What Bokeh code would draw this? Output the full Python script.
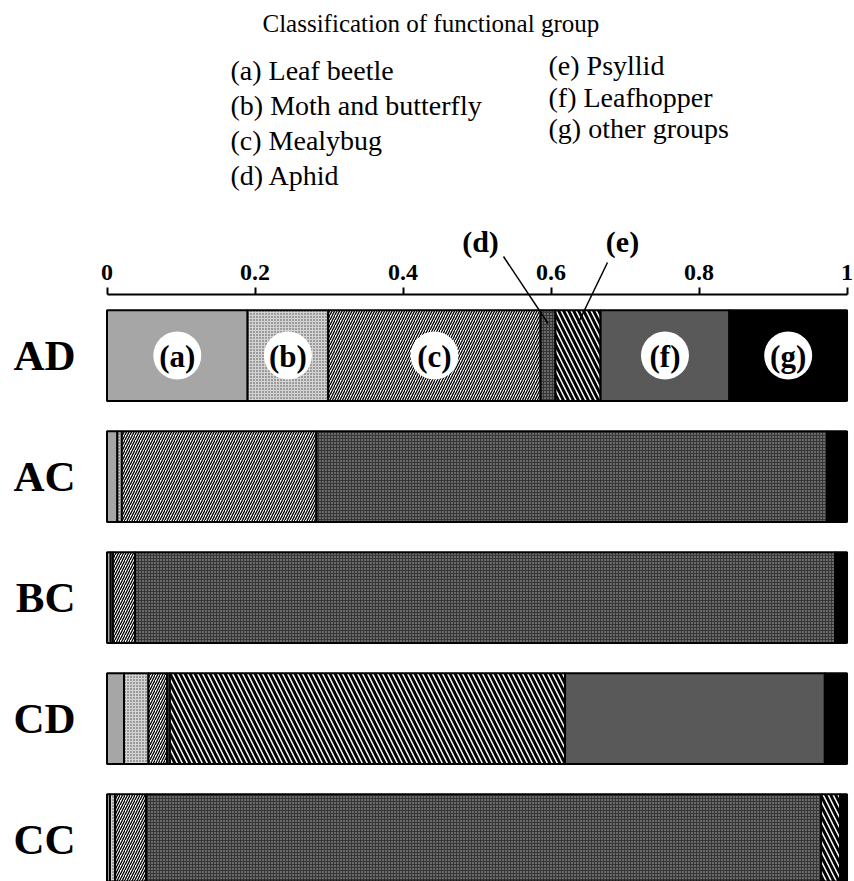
from bokeh.plotting import figure
from bokeh.models import ColumnDataSource, Range1d, FixedTicker, Label, Arrow
from bokeh.core.properties import value
from bokeh.embed import file_html
from bokeh.resources import INLINE

# ---------------- data ----------------
sites = ["AD", "AC", "BC", "CD", "CC"]
group_keys = ["a", "b", "c", "d", "e", "f", "g"]
group_names = ["Leaf beetle", "Moth and butterfly", "Mealybug", "Aphid",
               "Psyllid", "Leafhopper", "other groups"]
leaf_beetle    = [0.190, 0.014, 0.005, 0.023, 0.004]
moth_butterfly = [0.109, 0.006, 0.003, 0.033, 0.007]
mealybug       = [0.287, 0.263, 0.030, 0.025, 0.042]
aphid          = [0.020, 0.690, 0.946, 0.004, 0.912]
psyllid        = [0.061, 0.000, 0.000, 0.534, 0.026]
leafhopper     = [0.174, 0.000, 0.000, 0.351, 0.000]
other_groups   = [0.159, 0.027, 0.016, 0.030, 0.009]
ticks = [0, 0.2, 0.4, 0.6, 0.8, 1]
tick_labels = ["0", "0.2", "0.4", "0.6", "0.8", "1"]
labelled_in_bar = ["a", "b", "c", "f", "g"]   # circled labels in first bar
leader_labels = ["d", "e"]                    # labels with leader lines

series = [leaf_beetle, moth_butterfly, mealybug, aphid, psyllid, leafhopper, other_groups]

# ---------------- layout constants ----------------
W, H = 854, 881
MB_LEFT, MB_RIGHT = 90, 0
X0, X1 = -0.0223, 1.0101
Y_TOP, Y_BOTTOM = -2.934, 4.347
SERIF = "Liberation Serif"

fw = W - MB_LEFT - MB_RIGHT
fh = H
def dx(px):  # page pixel -> data x
    return X0 + (px - MB_LEFT) / fw * (X1 - X0)
def dy(py):  # page pixel -> data y
    return Y_TOP + py / fh * (Y_BOTTOM - Y_TOP)

p = figure(width=W, height=H, output_backend="svg", toolbar_location=None,
           x_range=Range1d(X0, X1), y_range=Range1d(Y_BOTTOM, Y_TOP),
           x_axis_location="above", y_axis_location="left",
           min_border_left=MB_LEFT, min_border_top=0,
           min_border_right=MB_RIGHT, min_border_bottom=0)
p.outline_line_color = None
p.xgrid.visible = False
p.ygrid.visible = False
p.background_fill_color = "white"
p.border_fill_color = "white"

data = {"pos": list(range(len(sites)))}
for k, s in zip(group_keys, series):
    data[k] = s
src = ColumnDataSource(data)

fills = ["#a6a6a6", "#d4d4d4", "white", "#363636", "white", "#595959", "black"]
hatches = [None, "dot", "/", "dot", "\\", None, None]
hcolors = ["black", "#444444", "black", "#b8b8b8", "black", "black", "black"]
hscales = [4, 3, 5, 3, 10, 4, 4]
hweights = [1, 1, 1.3, 1, 3, 1, 1]

p.hbar_stack(group_keys, y="pos", height=0.75, source=src,
             fill_color=fills, hatch_pattern=hatches, hatch_color=hcolors,
             hatch_scale=hscales, hatch_weight=hweights,
             line_color="black", line_width=2)

# circled labels in the first bar
cum = 0.0
mids = {}
for k, s in zip(group_keys, series):
    mids[k] = cum + s[0] / 2
    cum += s[0]
lab_src = ColumnDataSource(dict(
    x=[mids[k] for k in labelled_in_bar],
    y=[0] * len(labelled_in_bar),
    t=["(%s)" % k for k in labelled_in_bar]))
p.scatter("x", "y", source=lab_src, size=48, marker="circle",
          fill_color="white", line_color=None)
p.text("x", "y", text="t", source=lab_src, text_font=value(SERIF),
       text_font_style="bold", text_font_size="31px", text_color="black",
       text_align="center", text_baseline="middle", y_offset=1)

# leader labels (d) and (e)
lead_text_px = {"d": (480, 241), "e": (622, 241)}
lead_start_px = {"d": (503, 256), "e": (607, 262)}
for k in leader_labels:
    tx, ty = lead_text_px[k]
    p.add_layout(Label(x=dx(tx), y=dy(ty), text="(%s)" % k, text_font=SERIF,
                       text_font_style="bold", text_font_size="30px",
                       text_color="black",
                       text_align="center", text_baseline="middle"))
    sxp, syp = lead_start_px[k]
    p.add_layout(Arrow(end=None, x_start=dx(sxp), y_start=dy(syp),
                       x_end=mids[k], y_end=dy(323),
                       line_color="black", line_width=1.5))

# axes
xa = p.xaxis[0]
xa.fixed_location = dy(294)
xa.bounds = (0, 1)
xa.ticker = FixedTicker(ticks=ticks)
xa.major_label_overrides = {t: l for t, l in zip(ticks, tick_labels)}
xa.axis_line_width = 2
xa.major_tick_line_width = 2
xa.major_tick_out = 7
xa.major_tick_in = 0
xa.minor_tick_line_color = None
xa.major_label_standoff = 8
xa.major_label_text_font = SERIF
xa.major_label_text_font_style = "bold"
xa.major_label_text_font_size = "24px"
xa.major_label_text_color = "black"

ya = p.yaxis[0]
ya.ticker = FixedTicker(ticks=list(range(len(sites))))
ya.major_label_overrides = {i: s for i, s in enumerate(sites)}
ya.axis_line_color = None
ya.major_tick_line_color = None
ya.minor_tick_line_color = None
ya.major_tick_out = 0
ya.major_tick_in = 0
ya.major_label_standoff = 15
ya.major_label_text_font = SERIF
ya.major_label_text_font_style = "bold"
ya.major_label_text_font_size = "43px"
ya.major_label_text_color = "black"

# legend text block
LEG_FONT = "28px"
p.add_layout(Label(x=dx(262), y=dy(23), text="Classification of functional group",
                   text_font=SERIF, text_font_size="25px", text_color="black",
                   text_baseline="alphabetic"))
left_col = [0, 1, 2, 3]
right_col = [4, 5, 6]
left_base = [70, 105, 140, 175]
right_base = [65, 97, 128]
for i, b in zip(left_col, left_base):
    p.add_layout(Label(x=dx(230), y=dy(b), text="(%s) %s" % (group_keys[i], group_names[i]),
                       text_font=SERIF, text_font_size=LEG_FONT, text_color="black",
                       text_baseline="alphabetic"))
for i, b in zip(right_col, right_base):
    p.add_layout(Label(x=dx(548), y=dy(b), text="(%s) %s" % (group_keys[i], group_names[i]),
                       text_font=SERIF, text_font_size=LEG_FONT, text_color="black",
                       text_baseline="alphabetic"))

open("out.html", "w").write(file_html(p, INLINE))
